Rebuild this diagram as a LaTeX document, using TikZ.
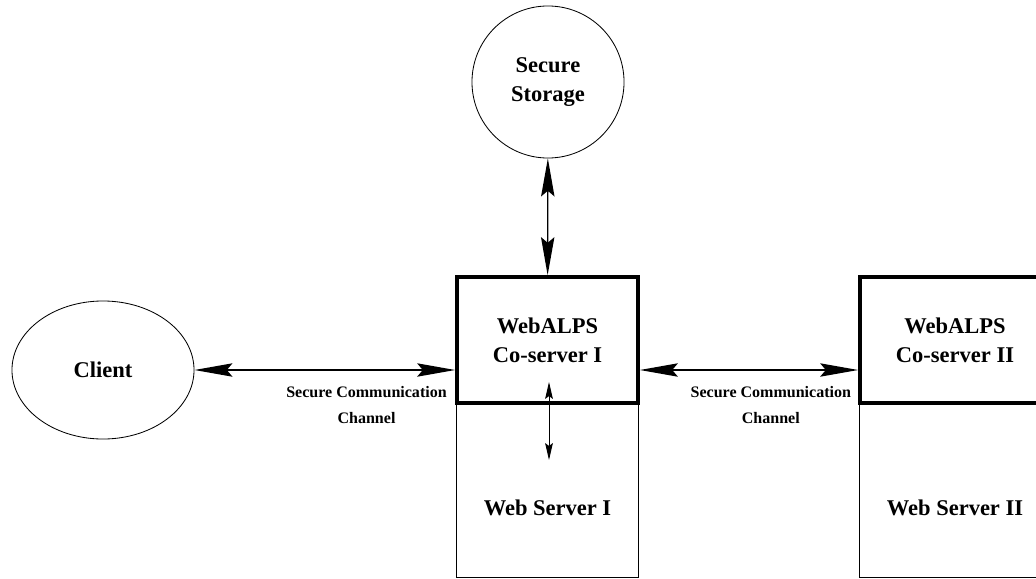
\documentclass[tikz,border=0pt]{standalone}
\usepackage{fontspec}
\setmainfont{Liberation Serif}
\usetikzlibrary{arrows.meta,shapes.geometric,positioning,calc}

\begin{document}
\begin{tikzpicture}[x=0.025cm, y=-0.025cm,
    srv/.style={draw, line width=2.6pt, minimum width=4.525cm, minimum height=3.15cm, align=center, font=\bfseries\fontsize{16}{20.6}\selectfont},
    web/.style={draw, line width=0.7pt, minimum width=4.525cm, minimum height=4.35cm},
    webtxt/.style={font=\bfseries\fontsize{16}{20.6}\selectfont},
    arr/.style={{Stealth[length=27pt,width=9.5pt,inset=4pt]}-{Stealth[length=27pt,width=9.5pt,inset=4pt]}, line width=1pt},
    arrsm/.style={{Stealth[length=12pt,width=5.5pt,inset=2pt]}-{Stealth[length=12pt,width=5.5pt,inset=2pt]}, line width=0.7pt},
    lbl/.style={font=\bfseries\fontsize{11.4}{18.5}\selectfont, align=center}
]
\useasboundingbox (0,0) rectangle (1036,578);

\node[draw, circle, minimum size=3.8cm, line width=0.6pt, align=center, font=\bfseries\fontsize{16}{20.6}\selectfont] (storage) at (548,82) {Secure\\Storage};
\node[draw, ellipse, minimum width=4.55cm, minimum height=3.45cm, line width=0.6pt, font=\bfseries\fontsize{16}{20.6}\selectfont] (client) at (103,370) {Client};

\node[web, label={[webtxt, yshift=-13pt]center:Web Server I}] (web1) at (547.5,490) {};
\node[srv] (cos1) at (547.5,340) {WebALPS\\Co-server I};
\node[web, minimum width=4.75cm, label={[webtxt, yshift=-13pt]center:Web Server II}] (web2) at (955,490) {};
\node[srv, minimum width=4.75cm] (cos2) at (955,340) {WebALPS\\Co-server II};

\coordinate (in1) at (549,382);
\coordinate (in2) at (549,460);

\draw[arr] (storage) -- (cos1);
\draw[arr] (client.east) -- (client.east -| cos1.west)
    node[lbl, pos=0.66, below=8pt] {Secure Communication\\Channel};
\draw[arr] (cos1.east |- client.east) -- (cos2.west |- client.east)
    node[lbl, pos=0.6, below=8pt] {Secure Communication\\Channel};
\draw[arrsm] (in1) -- (in2);
\end{tikzpicture}
\end{document}
